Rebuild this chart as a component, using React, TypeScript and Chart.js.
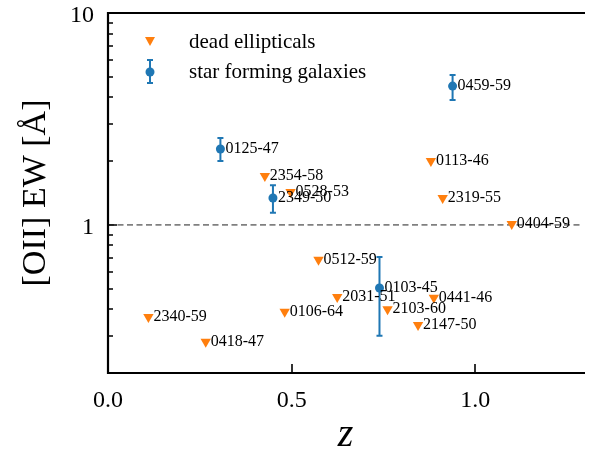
import React, { useEffect, useRef } from 'react';
import { Chart, registerables } from 'chart.js';
Chart.register(...registerables);

// Dead ellipticals (upper limits)
const deadNames = ['0113-46', '2354-58', '0528-53', '2319-55', '0404-59', '0512-59', '2031-51', '0441-46', '2103-60', '0106-64', '2340-59', '2147-50', '0418-47'];
const deadZ = [0.879, 0.427, 0.497, 0.911, 1.099, 0.573, 0.624, 0.887, 0.761, 0.481, 0.110, 0.844, 0.266];
const deadEW = [2.0, 1.70, 1.43, 1.34, 1.01, 0.684, 0.457, 0.453, 0.40, 0.389, 0.368, 0.337, 0.281];

// Star forming galaxies
const sfNames = ['0459-59', '0125-47', '2349-50', '0103-45'];
const sfZ = [0.938, 0.306, 0.449, 0.739];
const sfEW = [4.52, 2.28, 1.34, 0.504];
const sfLow = [3.89, 2.0, 1.14, 0.30];
const sfHigh = [5.1, 2.57, 1.54, 0.706];

// Axes
const xTicks = [0.0, 0.5, 1.0];
const xTickLabels = ['0.0', '0.5', '1.0'];
const yMajorTicks = [1, 10];
const yMajorLabels = ['1', '10'];
const yMinorTicks = [0.2, 0.3, 0.4, 0.5, 0.6, 0.7, 0.8, 0.9, 2, 3, 4, 5, 6, 7, 8, 9];
const xMin = 0;
const xMax = 1.293;
const yMin = 0.2;
const yMax = 10;
const refLine = [1, 1];

const legendLabels = ['dead ellipticals', 'star forming galaxies'];

const ORANGE = '#ff7f0e';
const BLUE = '#1f77b4';
const SERIF = '"Liberation Serif", "Times New Roman", serif';

const decor = {
  id: 'decor',
  beforeDatasetsDraw(chart: any) {
    const ctx = chart.ctx;
    const xs = chart.scales.x;
    const ys = chart.scales.y;
    ctx.save();
    ctx.strokeStyle = BLUE;
    ctx.lineWidth = 2;
    for (let i = 0; i < sfZ.length; i++) {
      const px = xs.getPixelForValue(sfZ[i]);
      const pt = ys.getPixelForValue(sfHigh[i]);
      const pb = ys.getPixelForValue(sfLow[i]);
      ctx.beginPath();
      ctx.moveTo(px, pt);
      ctx.lineTo(px, pb);
      ctx.moveTo(px - 3, pt);
      ctx.lineTo(px + 3, pt);
      ctx.moveTo(px - 3, pb);
      ctx.lineTo(px + 3, pb);
      ctx.stroke();
    }
    ctx.restore();
  },
  afterDatasetsDraw(chart: any) {
    const ctx = chart.ctx;
    const xs = chart.scales.x;
    const ys = chart.scales.y;
    ctx.save();
    ctx.fillStyle = '#000';
    ctx.font = `16px ${SERIF}`;
    ctx.textAlign = 'left';
    ctx.textBaseline = 'middle';
    deadNames.forEach((n, i) => {
      ctx.fillText(n, xs.getPixelForValue(deadZ[i]) + 5, ys.getPixelForValue(deadEW[i]));
    });
    sfNames.forEach((n, i) => {
      ctx.fillText(n, xs.getPixelForValue(sfZ[i]) + 5, ys.getPixelForValue(sfEW[i]));
    });
    ctx.restore();
  },
  afterDraw(chart: any) {
    const ctx = chart.ctx;
    const a = chart.chartArea;
    const xs = chart.scales.x;
    const ys = chart.scales.y;
    ctx.save();
    // frame
    ctx.strokeStyle = '#000';
    ctx.lineWidth = 2.2;
    ctx.beginPath();
    ctx.moveTo(a.left, a.top);
    ctx.lineTo(a.right + 2, a.top);
    ctx.moveTo(a.left, a.top - 1);
    ctx.lineTo(a.left, a.bottom + 1);
    ctx.moveTo(a.left - 1, a.bottom);
    ctx.lineTo(a.right + 2, a.bottom);
    ctx.stroke();
    // ticks
    ctx.lineWidth = 1.6;
    ctx.beginPath();
    xTicks.forEach((v) => {
      const p = Math.round(xs.getPixelForValue(v));
      ctx.moveTo(p, a.bottom);
      ctx.lineTo(p, a.bottom - 9);
    });
    yMajorTicks.forEach((v) => {
      const p = Math.round(ys.getPixelForValue(v));
      ctx.moveTo(a.left, p);
      ctx.lineTo(a.left + 9, p);
    });
    yMinorTicks.forEach((v) => {
      const p = Math.round(ys.getPixelForValue(v));
      ctx.moveTo(a.left, p);
      ctx.lineTo(a.left + 5, p);
    });
    ctx.stroke();
    // tick labels
    ctx.fillStyle = '#000';
    ctx.font = `24px ${SERIF}`;
    ctx.textBaseline = 'alphabetic';
    ctx.textAlign = 'center';
    xTicks.forEach((v, i) => {
      ctx.fillText(xTickLabels[i], xs.getPixelForValue(v), a.bottom + 34);
    });
    ctx.textAlign = 'right';
    yMajorTicks.forEach((v, i) => {
      ctx.fillText(yMajorLabels[i], a.left - 14, ys.getPixelForValue(v) + 9);
    });
    // axis titles
    ctx.textAlign = 'center';
    ctx.font = `italic 40px ${SERIF}`;
    ctx.fillText('z', (a.left + a.right) / 2, 446);
    ctx.save();
    ctx.translate(45, (a.top + a.bottom) / 2);
    ctx.rotate(-Math.PI / 2);
    ctx.font = `34px ${SERIF}`;
    ctx.fillText('[OII] EW [Å]', 0, 0);
    ctx.restore();
    // legend
    const lx = a.left + 42;
    ctx.fillStyle = ORANGE;
    ctx.beginPath();
    ctx.moveTo(lx - 5, 37);
    ctx.lineTo(lx + 5, 37);
    ctx.lineTo(lx, 46);
    ctx.closePath();
    ctx.fill();
    ctx.strokeStyle = BLUE;
    ctx.lineWidth = 2;
    ctx.beginPath();
    ctx.moveTo(lx, 60);
    ctx.lineTo(lx, 83);
    ctx.moveTo(lx - 3, 60);
    ctx.lineTo(lx + 3, 60);
    ctx.moveTo(lx - 3, 83);
    ctx.lineTo(lx + 3, 83);
    ctx.stroke();
    ctx.fillStyle = BLUE;
    ctx.beginPath();
    ctx.arc(lx, 72, 4.5, 0, Math.PI * 2);
    ctx.fill();
    ctx.fillStyle = '#000';
    ctx.font = `21px ${SERIF}`;
    ctx.textAlign = 'left';
    ctx.textBaseline = 'middle';
    ctx.fillText(legendLabels[0], lx + 39, 42);
    ctx.fillText(legendLabels[1], lx + 39, 72);
    ctx.restore();
  },
};

export default function App() {
  const ref = useRef<HTMLCanvasElement | null>(null);
  useEffect(() => {
    document.body.style.margin = '0';
    if (!ref.current) return;
    const chart = new Chart(ref.current, {
      type: 'scatter',
      data: {
        datasets: [
          {
            type: 'line',
            label: 'ref',
            data: [
              { x: xMin, y: refLine[0] },
              { x: xMax, y: refLine[1] },
            ],
            borderColor: '#808080',
            borderWidth: 1.6,
            borderDash: [6, 3.5],
            pointRadius: 0,
            showLine: true,
            fill: false,
            order: 3,
          } as any,
          {
            label: legendLabels[0],
            data: deadZ.map((z, i) => ({ x: z, y: deadEW[i] })),
            pointStyle: 'triangle',
            rotation: 180,
            radius: 6,
            backgroundColor: ORANGE,
            borderColor: ORANGE,
            borderWidth: 0,
            order: 2,
          } as any,
          {
            label: legendLabels[1],
            data: sfZ.map((z, i) => ({ x: z, y: sfEW[i] })),
            pointStyle: 'circle',
            radius: 4.5,
            backgroundColor: BLUE,
            borderColor: BLUE,
            borderWidth: 0,
            order: 1,
          } as any,
        ],
      },
      options: {
        animation: false,
        responsive: false,
        devicePixelRatio: 1,
        layout: { padding: { left: 108, top: 13, right: 0, bottom: 89 } },
        scales: {
          x: { type: 'linear', min: xMin, max: xMax, display: false },
          y: { type: 'logarithmic', min: yMin, max: yMax, display: false },
        },
        plugins: { legend: { display: false }, tooltip: { enabled: false } },
      },
      plugins: [decor],
    });
    return () => chart.destroy();
  }, []);
  return (
    <div style={{ width: 589, height: 462, background: '#fff' }}>
      <canvas ref={ref} width={589} height={462} />
    </div>
  );
}
